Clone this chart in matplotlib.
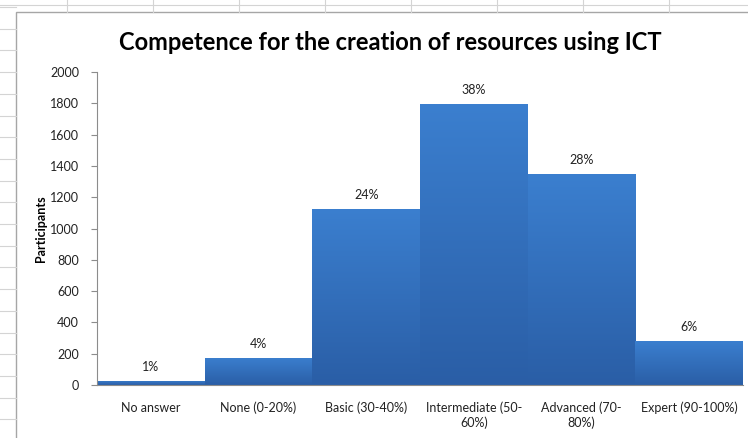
import matplotlib.pyplot as plt
import numpy as np
from matplotlib.lines import Line2D
from matplotlib.patches import Rectangle
from matplotlib.colors import LinearSegmentedColormap

categories = ['No answer', 'None (0-20%)', 'Basic (30-40%)', 'Intermediate (50-\n60%)',
              'Advanced (70-\n80%)', 'Expert (90-100%)']
participants = [28, 173, 1125, 1795, 1348, 281]
percent_labels = ['1%', '4%', '24%', '38%', '28%', '6%']
y_ticks = [0, 200, 400, 600, 800, 1000, 1200, 1400, 1600, 1800, 2000]

W, H = 748, 438
fig = plt.figure(figsize=(W / 100, H / 100), dpi=100)
plt.rcParams['font.family'] = ['Lato', 'DejaVu Sans']

# spreadsheet grid behind the chart
grid_col = '#d4d4d4'
for y in np.arange(7, H, 21.7):
    fig.add_artist(Line2D([0, 16 / W], [1 - y / H, 1 - y / H], color=grid_col, lw=0.8))
for x in np.arange(67, W, 86):
    fig.add_artist(Line2D([x / W, x / W], [1, 1 - 12 / H], color=grid_col, lw=0.8))
fig.add_artist(Line2D([0, 1], [1 - 5 / H, 1 - 5 / H], color=grid_col, lw=0.8))

# chart area border
fig.add_artist(Rectangle((16 / W, -0.02), 1.0, 1 - 12 / H + 0.02, transform=fig.transFigure,
                         facecolor='white', edgecolor='#a6a6a6', lw=1.0, zorder=0))

ax = fig.add_axes([97 / W, 1 - 385 / H, (743 - 97) / W, (385 - 72) / H])
ax.set_facecolor('none')

x = np.arange(len(categories))
bars = ax.bar(x, participants, width=1.0, color='none', edgecolor='none')

cmap = LinearSegmentedColormap.from_list('excel', ['#2a5ea6', '#3b7fcf'])
grad = np.linspace(0, 1, 256).reshape(-1, 1)
for b in bars:
    bx, bw, bh = b.get_x(), b.get_width(), b.get_height()
    im = ax.imshow(grad, extent=[bx, bx + bw, 0, bh], origin='lower', cmap=cmap,
                   aspect='auto', zorder=2)
    im.set_clip_path(b)

for xi, v, lab in zip(x, participants, percent_labels):
    ax.text(xi, v + 50, lab, ha='center', va='bottom', fontsize=9, color='#222222')

ax.set_xlim(-0.5, len(categories) - 0.5)
ax.set_ylim(0, 2000)
ax.set_yticks(y_ticks)
ax.set_yticklabels([str(t) for t in y_ticks], fontsize=9, color='#222222')
ax.set_xticks(x)
ax.set_xticklabels(categories, fontsize=9, color='#222222')
ax.tick_params(axis='x', length=0, pad=12)
ax.tick_params(axis='y', length=4, color='#8c8c8c', pad=9)

for s in ['top', 'right']:
    ax.spines[s].set_visible(False)
ax.spines['left'].set_color('#8c8c8c')
ax.spines['bottom'].set_color('#8c8c8c')

ax.set_ylabel('Participants', fontsize=9, fontweight='bold', labelpad=2)
fig.text(390 / W, 1 - 42 / H, 'Competence for the creation of resources using ICT',
         ha='center', va='center', fontsize=17, fontweight='bold')

fig.savefig('out.png', dpi=100)
